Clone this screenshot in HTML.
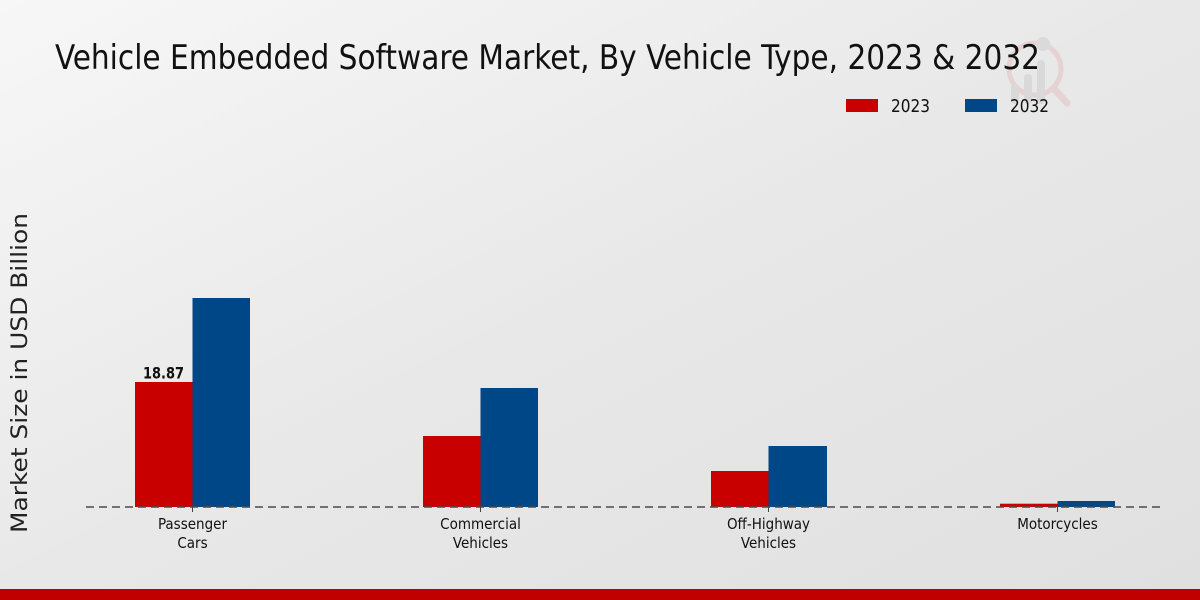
<!DOCTYPE html>
<html>
<head>
<meta charset="utf-8">
<style>
  html, body { margin: 0; padding: 0; }
  body { width: 1200px; height: 600px; overflow: hidden; }
  svg { display: block; }
  .cond { font-family: "DejaVu Sans Condensed", "DejaVu Sans", "Liberation Sans", sans-serif; font-stretch: condensed; }
  .reg { font-family: "DejaVu Sans", "Liberation Sans", sans-serif; }
</style>
</head>
<body>
<svg width="1200" height="600" viewBox="0 0 1200 600" xmlns="http://www.w3.org/2000/svg">
  <defs>
    <linearGradient id="bg" x1="0" y1="0" x2="1" y2="1">
      <stop offset="0" stop-color="#f7f7f7"/>
      <stop offset="0.5" stop-color="#e8e8e8"/>
      <stop offset="1" stop-color="#e0e0e0"/>
    </linearGradient>
  </defs>
  <rect x="0" y="0" width="1200" height="600" fill="url(#bg)"/>

  <!-- watermark -->
  <g opacity="0.3">
    <circle cx="1035" cy="69" r="26" fill="none" stroke="#e3a0a0" stroke-width="5"/>
    <line x1="1054" y1="89" x2="1067" y2="103" stroke="#e3a0a0" stroke-width="7" stroke-linecap="round"/>
    <rect x="1011" y="84" width="8" height="20" rx="4" fill="#b8b8c0"/>
    <rect x="1024" y="74" width="8" height="30" rx="4" fill="#b8b8c0"/>
    <rect x="1037" y="60" width="8" height="44" rx="4" fill="#b8b8c0"/>
    <circle cx="1043" cy="44" r="7" fill="#b8b8c0"/>
  </g>

  <!-- title -->
  <text x="55" y="69" class="cond" font-size="34" fill="#111" textLength="985" lengthAdjust="spacingAndGlyphs">Vehicle Embedded Software Market, By Vehicle Type, 2023 &amp; 2032</text>

  <!-- legend -->
  <rect x="846" y="99" width="32" height="13" fill="#c80000"/>
  <text x="891" y="112" class="cond" font-size="18" fill="#111" textLength="39" lengthAdjust="spacingAndGlyphs">2023</text>
  <rect x="965" y="99" width="32" height="13" fill="#004787"/>
  <text x="1010" y="112" class="cond" font-size="18" fill="#111" textLength="39" lengthAdjust="spacingAndGlyphs">2032</text>

  <!-- y axis label -->
  <text transform="translate(27,373) rotate(-90)" x="0" y="0" text-anchor="middle" class="reg" font-size="22" fill="#222" textLength="320" lengthAdjust="spacingAndGlyphs">Market Size in USD Billion</text>

  <!-- bars -->
  <rect x="135" y="382" width="57.5" height="125" fill="#c80000"/>
  <rect x="192.5" y="298" width="57.5" height="209" fill="#004787"/>

  <rect x="423" y="436" width="57.5" height="71" fill="#c80000"/>
  <rect x="480.5" y="388" width="57.5" height="119" fill="#004787"/>

  <rect x="711" y="471" width="57.5" height="36" fill="#c80000"/>
  <rect x="768.5" y="446" width="58.5" height="61" fill="#004787"/>

  <rect x="1000" y="503.7" width="57.5" height="3.3" fill="#c80000"/>
  <rect x="1057.5" y="501" width="57.5" height="6" fill="#004787"/>

  <!-- value label -->
  <text x="163.5" y="378.5" text-anchor="middle" class="cond" font-size="16" font-weight="bold" fill="#111" textLength="41" lengthAdjust="spacingAndGlyphs">18.87</text>

  <!-- baseline dashed -->
  <line x1="86" y1="507" x2="1163" y2="507" stroke="#4a4a4a" stroke-width="1.5" stroke-dasharray="8,5"/>

  <!-- ticks -->
  <g stroke="#444" stroke-width="1">
    <line x1="192.5" y1="507" x2="192.5" y2="512"/>
    <line x1="480.5" y1="507" x2="480.5" y2="512"/>
    <line x1="768.5" y1="507" x2="768.5" y2="512"/>
    <line x1="1057.5" y1="507" x2="1057.5" y2="512"/>
  </g>

  <!-- category labels -->
  <g class="cond" font-size="15" fill="#111" text-anchor="middle">
    <text x="192.5" y="529">Passenger</text>
    <text x="192.5" y="548">Cars</text>
    <text x="480.5" y="529">Commercial</text>
    <text x="480.5" y="548">Vehicles</text>
    <text x="768.5" y="529">Off-Highway</text>
    <text x="768.5" y="548">Vehicles</text>
    <text x="1057.5" y="529">Motorcycles</text>
  </g>

  <!-- bottom bar -->
  <rect x="0" y="589" width="1200" height="11" fill="#c00000"/>
</svg>
</body>
</html>
